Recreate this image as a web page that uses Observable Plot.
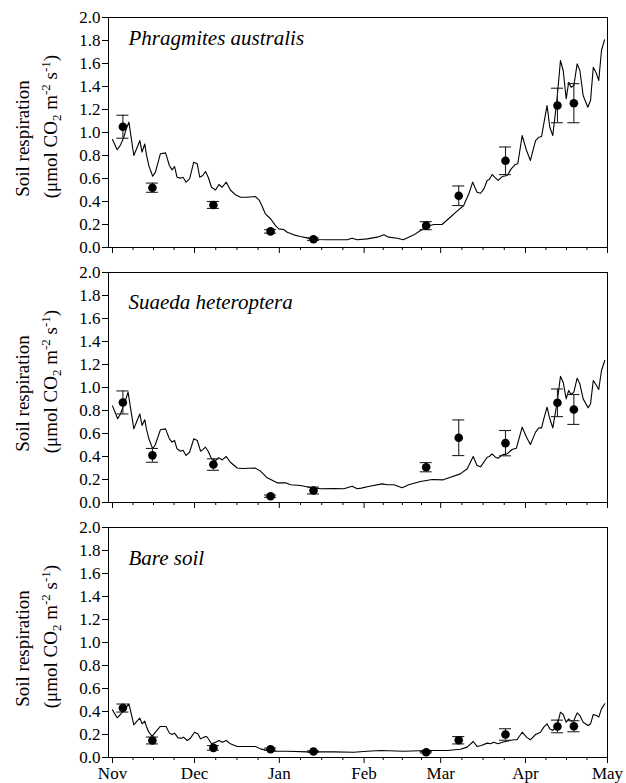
<!DOCTYPE html>
<html>
<head>
<meta charset="utf-8">
<script src="https://cdn.jsdelivr.net/npm/d3@7"></script>
<script src="https://cdn.jsdelivr.net/npm/@observablehq/plot@0.6"></script>
<style>
  html, body { margin: 0; padding: 0; background: #fff; }
  #chart svg { display: block; overflow: visible; }
</style>
</head>
<body>
<div id="chart"></div>
<script>
// ---- axis definitions (days counted from 1 November) ----
const monthLabels = ["Nov", "Dec", "Jan", "Feb", "Mar", "Apr", "May"];
const monthDays = [0, 30, 61, 92, 120, 151, 181];
const yTicks = [0, 0.2, 0.4, 0.6, 0.8, 1.0, 1.2, 1.4, 1.6, 1.8, 2.0];
const yLabel1 = "Soil respiration";
const yLabel2 = "(\u03bcmol CO2 m-2 s-1)";
const titles = ["Phragmites australis", "Suaeda heteroptera", "Bare soil"];

// ---- measured values (mean and error) on the sampling days ----
const sampleDays = [3.8, 14.6, 36.9, 57.8, 73.5, 114.7, 126.6, 143.7, 162.7, 168.7];
const phragMean = [1.05, 0.52, 0.37, 0.14, 0.072, 0.19, 0.45, 0.754, 1.235, 1.255];
const phragErr  = [0.10, 0.04, 0.03, 0.015, 0.01, 0.035, 0.085, 0.12, 0.15, 0.17];
const suaedaMean = [0.87, 0.41, 0.33, 0.055, 0.104, 0.307, 0.563, 0.516, 0.867, 0.809];
const suaedaErr  = [0.10, 0.06, 0.05, 0.01, 0.03, 0.04, 0.155, 0.11, 0.12, 0.13];
const bareMean = [0.43, 0.148, 0.084, 0.072, 0.052, 0.046, 0.15, 0.20, 0.27, 0.272];
const bareErr  = [0.035, 0.03, 0.02, 0.01, 0.006, 0.006, 0.032, 0.05, 0.055, 0.048];

// ---- modelled daily soil respiration [day, value] ----
const phragLine = [[0,0.94],[1.7,0.85],[2.9,0.89],[4,0.95],[5,1.03],[6,1.09],[7.8,0.80],[9,0.87],[10,0.93],[10.8,0.83],[11.8,0.90],[12.4,0.81],[13.3,0.71],[14.7,0.62],[15.7,0.655],[17.5,0.815],[19.4,0.823],[20.8,0.713],[21.8,0.675],[22.7,0.704],[23.6,0.611],[24.9,0.603],[25.8,0.611],[26.9,0.568],[28.2,0.597],[29.7,0.742],[31,0.728],[31.9,0.611],[33,0.626],[34,0.661],[35,0.611],[36.2,0.524],[37.7,0.50],[38.9,0.548],[40.1,0.524],[41.6,0.568],[43.1,0.50],[45,0.458],[46.8,0.437],[49.2,0.437],[52.3,0.443],[53.7,0.409],[54.5,0.37],[55.9,0.293],[57.8,0.25],[59.6,0.19],[60.8,0.162],[62.6,0.156],[63.9,0.133],[66.3,0.11],[68.7,0.096],[71.2,0.084],[74.8,0.07],[78.5,0.067],[82.2,0.067],[85.8,0.067],[87.6,0.081],[89.5,0.067],[93.1,0.075],[96.8,0.09],[99.2,0.11],[101,0.09],[104.1,0.081],[106.3,0.067],[108.3,0.09],[110.2,0.11],[112.6,0.148],[115.1,0.185],[117.5,0.2],[120.5,0.2],[123.6,0.265],[126,0.316],[128.4,0.365],[130.3,0.467],[131.7,0.568],[133.3,0.481],[134.6,0.472],[135.8,0.51],[137,0.583],[137.8,0.591],[138.8,0.635],[140,0.606],[141,0.583],[142.5,0.617],[144.3,0.626],[145.8,0.684],[147.3,0.722],[148.2,0.728],[149.8,0.974],[151.4,0.843],[152.8,0.757],[154.7,0.93],[155.9,0.959],[156.9,0.965],[157.7,1.075],[158.9,1.235],[159.9,1.046],[161,0.974],[162.6,1.307],[163.8,1.626],[164.8,1.539],[165.9,1.293],[166.8,1.437],[167.7,1.394],[168.7,1.409],[169.9,1.597],[170.9,1.539],[172.1,1.322],[173.8,1.22],[174.8,1.278],[175.8,1.568],[177,1.51],[177.8,1.452],[178.8,1.713],[179.9,1.806]];

const suaedaLine = [[0,0.84],[1.9,0.728],[2.9,0.77],[4,0.84],[5,0.91],[5.7,0.96],[7.8,0.64],[9,0.713],[10,0.77],[10.8,0.67],[11.8,0.72],[12.4,0.64],[13.3,0.554],[14.7,0.467],[15.7,0.504],[17.5,0.632],[19.4,0.64],[20.8,0.554],[21.8,0.525],[22.7,0.539],[23.6,0.467],[24.9,0.446],[25.8,0.455],[26.9,0.409],[28.2,0.437],[29.7,0.554],[31,0.539],[32.2,0.446],[33,0.46],[34,0.481],[35,0.446],[36.2,0.38],[37.7,0.365],[38.9,0.39],[40.1,0.37],[41.6,0.4],[43.1,0.35],[45.6,0.30],[47.5,0.296],[52.1,0.30],[54,0.275],[56.6,0.215],[60.2,0.171],[63.3,0.171],[65.1,0.154],[68.7,0.148],[72.4,0.13],[76,0.119],[80.9,0.122],[84.6,0.119],[87.6,0.142],[89.5,0.119],[91,0.125],[94,0.142],[98.6,0.162],[100.4,0.154],[102.9,0.154],[105.9,0.128],[108.3,0.154],[112.6,0.183],[116.9,0.2],[120.9,0.197],[123.6,0.22],[127.2,0.249],[129.7,0.293],[131.9,0.4],[133.3,0.322],[134.6,0.31],[137,0.394],[137.8,0.40],[138.8,0.423],[140,0.394],[141,0.385],[142.5,0.414],[144.3,0.423],[146.1,0.461],[147.7,0.472],[149.8,0.655],[151.4,0.568],[152.8,0.504],[154.7,0.612],[155.9,0.649],[156.9,0.649],[157.7,0.728],[158.9,0.829],[159.9,0.728],[161,0.649],[162.6,0.872],[163.8,1.098],[164.8,1.046],[165.9,0.901],[166.8,0.974],[167.7,0.94],[168.7,0.96],[169.9,1.081],[170.9,1.03],[172.1,0.901],[173.9,0.823],[174.8,0.858],[175.8,1.061],[177,1.017],[177.8,0.983],[178.8,1.148],[180,1.235]];

const bareLine = [[0,0.414],[1.7,0.345],[2.9,0.374],[4.5,0.42],[6,0.467],[7.8,0.284],[9.2,0.322],[10,0.342],[10.8,0.293],[11.8,0.316],[12.4,0.27],[13.3,0.22],[14.5,0.183],[15.7,0.22],[17.5,0.27],[19.6,0.27],[20.8,0.212],[21.8,0.2],[22.7,0.212],[24,0.171],[25.3,0.168],[26,0.177],[27.3,0.148],[28.5,0.168],[30,0.22],[31.2,0.206],[32.2,0.162],[33.4,0.177],[34.4,0.183],[35.3,0.154],[36.2,0.119],[37.7,0.133],[38.9,0.148],[40.1,0.133],[41.6,0.148],[43.1,0.119],[45.6,0.096],[50.5,0.096],[52.3,0.096],[54.1,0.075],[56.6,0.061],[59.6,0.055],[63.9,0.055],[71.2,0.049],[80.9,0.049],[88.2,0.046],[93.1,0.055],[98,0.061],[106.5,0.055],[115.1,0.061],[122.4,0.061],[127.2,0.072],[129.7,0.09],[131.9,0.139],[133.3,0.096],[134.9,0.104],[137,0.125],[138.2,0.119],[139.4,0.133],[141,0.119],[142.5,0.133],[144.3,0.142],[146.7,0.154],[147.9,0.154],[149.8,0.22],[151.4,0.177],[152.8,0.154],[154.7,0.2],[156.5,0.22],[157.7,0.264],[158.9,0.293],[159.9,0.249],[161,0.235],[162.6,0.278],[163.8,0.394],[164.8,0.374],[165.9,0.307],[166.8,0.336],[167.7,0.316],[168.7,0.322],[169.9,0.388],[170.9,0.365],[172.1,0.307],[173.9,0.278],[174.8,0.293],[175.8,0.374],[177,0.365],[177.8,0.351],[178.8,0.423],[180,0.467]];

// minor ticks: quarters of each month interval
const minorTickDays = d3.pairs(monthDays).flatMap(([a, b]) => [1, 2, 3].map(k => a + (b - a) * k / 4));

const FONT = "'Liberation Serif', 'Times New Roman', Times, serif";
const capHalf = 2.2; // half cap width in days

function panel({title, titleDy, line, mean, err, showLabels, height, marginBottom}) {
  const pts = sampleDays.map((d, i) => ({day: d, y: mean[i], lo: mean[i] - err[i], hi: mean[i] + err[i]}));
  const caps = pts.flatMap(d => [{day: d.day, y: d.lo}, {day: d.day, y: d.hi}]);
  const svg = Plot.plot({
    width: 626,
    height,
    marginLeft: 108,
    marginRight: 19,
    marginTop: 17,
    marginBottom,
    style: {fontFamily: FONT, fontSize: "16px", color: "black", background: "transparent", overflow: "visible"},
    x: {domain: [-1.46, 181]},
    y: {domain: [0, 2]},
    marks: [
      Plot.axisY({ticks: yTicks, tickFormat: d => d.toFixed(1), tickSize: 6, tickPadding: 2, fontSize: 17, label: null}),
      Plot.axisX({ticks: minorTickDays, tickSize: 3, tickFormat: () => "", label: null}),
      Plot.axisX({ticks: monthDays, tickSize: 6, tickPadding: 3, fontSize: 17,
        tickFormat: showLabels ? (d => monthLabels[monthDays.indexOf(d)]) : (() => ""), label: null}),
      Plot.frame({stroke: "black", strokeWidth: 1}),
      Plot.line(line, {x: d => d[0], y: d => d[1], stroke: "black", strokeWidth: 1.1}),
      Plot.ruleX(pts, {x: "day", y1: "lo", y2: "hi", stroke: "#222", strokeWidth: 1.1}),
      Plot.ruleY(caps, {y: "y", x1: d => d.day - capHalf, x2: d => d.day + capHalf, stroke: "#222", strokeWidth: 1.1}),
      Plot.dot(pts, {x: "day", y: "y", r: 4.3, fill: "black", stroke: "none"}),
      Plot.text([title], {frameAnchor: "top-left", dx: 20, dy: titleDy, textAnchor: "start", lineAnchor: "bottom",
        fontStyle: "italic", fontSize: 21, fill: "black", text: d => d}),
      Plot.text([yLabel1], {frameAnchor: "left", textAnchor: "middle", lineAnchor: "middle", rotate: -90, dx: -86, dy: 6, fontSize: 19, fill: "black", text: d => d}),
      Plot.text([yLabel2], {frameAnchor: "left", textAnchor: "middle", lineAnchor: "middle", rotate: -90, dx: -58, dy: -6, fontSize: 19, fill: "black", text: d => d})
    ]
  });
  // typeset sub/superscripts in the unit label
  d3.select(svg).selectAll("text").filter(function () { return this.textContent === yLabel2; }).each(function () {
    const t = d3.select(this);
    t.text(null);
    const parts = [["(\u03bcmol CO", 0], ["2", 1], [" m", 0], ["-2", -1], [" s", 0], ["-1", -1], [")", 0]];
    let shift = 0;
    for (const [s, k] of parts) {
      const target = k === 1 ? 4 : k === -1 ? -7 : 0;
      const ts = t.append("tspan").attr("dy", target - shift).text(s);
      if (k !== 0) ts.attr("font-size", 13);
      shift = target;
    }
  });
  return svg;
}

const chart = document.getElementById("chart");
chart.appendChild(panel({title: titles[0], titleDy: 27, line: phragLine, mean: phragMean, err: phragErr, showLabels: false, height: 255, marginBottom: 8}));
chart.appendChild(panel({title: titles[1], titleDy: 36, line: suaedaLine, mean: suaedaMean, err: suaedaErr, showLabels: false, height: 255, marginBottom: 8}));
chart.appendChild(panel({title: titles[2], titleDy: 37, line: bareLine, mean: bareMean, err: bareErr, showLabels: true, height: 273, marginBottom: 26}));
</script>
</body>
</html>
